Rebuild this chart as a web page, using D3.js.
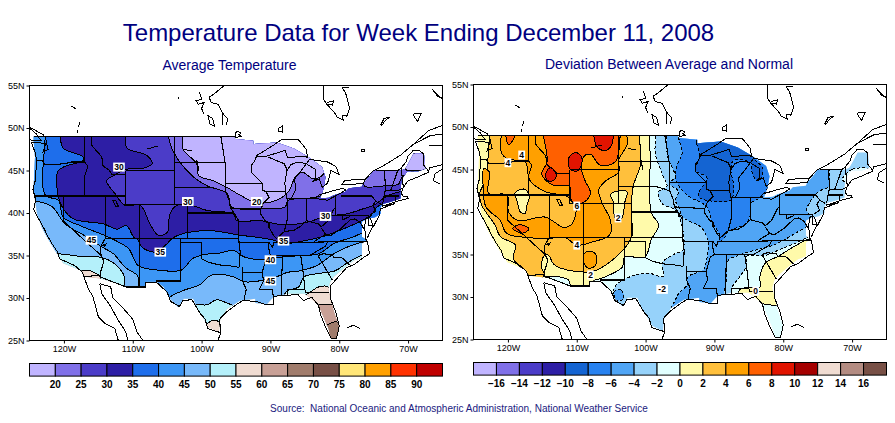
<!DOCTYPE html>
<html>
<head>
<meta charset="utf-8">
<script src="https://cdn.jsdelivr.net/npm/d3@7"></script>
<style>
body { margin: 0; background: #fff; }
svg { display: block; font-family: "Liberation Sans", Arial, sans-serif; }
.tick text { font-size: 9px; fill: #000; }
.legend-label { font-size: 10px; fill: #000; text-anchor: middle; font-weight: bold; }
.map-label { font-size: 8.5px; font-weight: bold; fill: #000; text-anchor: middle; }
</style>
</head>
<body>
<div id="container"></div>
<script>
// ---- data, all in lon/lat ----
const latTicks = [25, 30, 35, 40, 45, 50, 55];
const lonTicks = [-120, -110, -100, -90, -80, -70];

const tempLabels = [20, 25, 30, 35, 40, 45, 50, 55, 60, 65, 70, 75, 80, 85, 90];
const tempColors = ["#c0b4ff", "#8070e8", "#4b3cc8", "#2d1ea5", "#1e6eeb", "#3c96f5", "#78b9fa", "#b4f0fa",
    "#f0dcd2", "#c8a096", "#a07c6c", "#785046", "#ffe678", "#ffa000", "#ff3200", "#c00000"];

const devLabels = ["−16", "−14", "−12", "−10", "−8", "−6", "−4", "−2", "0", "2", "4", "6", "8", "10", "12", "14", "16"];
const devColors = ["#c0b4ff", "#8070e8", "#4b3cc8", "#2d1ea5", "#1464d2", "#2882f0", "#50a5f5", "#96d2fa",
    "#e1ffff", "#fffaaa", "#ffc03c", "#ffa000", "#ff6000", "#e11400", "#a50000", "#f0dcd2", "#b48c82", "#785046"];

// the shaded area, with the stepped edge of the analysis grid
const usMask = [[-124.4,49],[-95.4,49],[-95.1,48.7],[-92.5,48.5],[-92.5,48.1],[-89.1,48.3],[-86.6,47.6],[-84.5,46.6],[-82.5,45.4],[-82,44.2],[-82.3,42.8],[-82.8,41.7],[-81.5,41.8],[-80.8,42.1],[-79.1,42.5],[-78.6,42.9],[-76.7,43.1],[-76.5,43.5],[-76,43.9],[-75.5,44.4],[-75,45],[-71,45],[-70.4,45.2],[-69.9,45.9],[-69.2,47],[-67.7,47],[-67.5,45.2],[-68.5,44.9],[-70.1,44.9],[-70.9,44],[-71.1,42.9],[-71.1,41.7],[-72.6,41.3],[-73.6,41.1],[-74,40.7],[-74,39.9],[-74.8,39.5],[-76,39.3],[-76.7,39],[-76.7,37.2],[-76,36.8],[-76.7,36.4],[-76.7,34.8],[-77.9,34.4],[-78.9,33.8],[-80.8,32.5],[-81.3,31.9],[-81.6,31.1],[-80.8,28.5],[-80,26.6],[-80.3,25.3],[-81.3,25.3],[-81.6,26.4],[-82.8,28.7],[-83,29.2],[-85,30.5],[-87.6,30.5],[-89.6,30.1],[-90.5,29.3],[-92.2,29.4],[-92.2,29.9],[-94.4,29.7],[-96.3,28.7],[-97.3,27.4],[-97.5,26],[-99,26.6],[-100.7,28.9],[-101.2,29.9],[-102.6,29.9],[-103.4,28.9],[-104.6,29.9],[-105.5,31.3],[-106.5,31.9],[-108,31.9],[-108.2,31.4],[-111.1,31.4],[-114.7,32.3],[-116.9,32.5],[-117.4,33.2],[-120.1,34.1],[-121.3,35.6],[-122.5,37.2],[-123.2,38.3],[-123.9,39.9],[-124.2,41.5],[-124.4,43],[-124.2,46.6],[-124.4,48.5]];

// average temperature: everything colder than a level, warm to cold
const below65 = [[-130,60],[-130,20],[-83,20],[-82.5,26.5],[-81.8,26.8],[-80.6,27.2],[-79.5,27],[-60,30],[-60,60]];
const below60 = [[-130,60],[-130,20],[-84,20],[-84,29],[-83,29.2],[-80.8,29.2],[-79,29.2],[-60,31],[-60,60]];
const below55 = [[-117.4,33.2],[-116.2,33.2],[-114.7,32.5],[-114.7,32.1],[-108.4,30.5],[-104.1,28.1],[-100.2,26.6],[-99.2,27],[-98.3,27.4],[-97.5,27.2],[-97,25.8],[-90.5,27.4],[-85.4,29.7],[-85,30.3],[-84.2,30.7],[-83,31.3],[-81.6,31.3],[-81.2,30.5],[-79.9,30.5],[-70,30],[-60,40],[-60,60],[-130,60],[-130,33.2]];
const below50 = [[-120.8,35.2],[-117.6,34.9],[-114.7,34.8],[-112.6,34],[-111.2,32.5],[-111.1,31.2],[-108.4,30.5],[-104.1,28.1],[-101,29.2],[-99.2,29.2],[-97.8,29.8],[-96.3,29.4],[-95.4,29.1],[-94.4,28.5],[-88.3,28.9],[-88.3,29.7],[-87.6,30.8],[-85.9,31.3],[-85.1,32.5],[-82.8,32.9],[-80.6,33.2],[-78.9,34.1],[-76.7,35],[-74,35],[-60,40],[-60,60],[-130,60],[-130,35.2]];
const below45 = [[-124.2,41.4],[-121.8,40.8],[-119.8,38.7],[-116.7,37.2],[-114.7,36.1],[-112.8,35.2],[-111.1,33.6],[-109.3,32.6],[-109,31.1],[-106.5,30.1],[-104.8,29.7],[-104.6,30.1],[-102.6,30.9],[-100.2,31.6],[-99,32.5],[-97.8,32.8],[-95.4,32.5],[-93.7,31.9],[-91,32.1],[-89.1,32.5],[-87.6,33],[-85.7,33.2],[-83.3,33.8],[-80.8,35.2],[-78.2,36.2],[-76.2,36.6],[-74,36.6],[-60,42],[-60,60],[-130,60],[-130,41.4]];
const below40 = [[-122.7,49.7],[-122.7,42.1],[-120.8,41.5],[-120.1,39.5],[-117.6,38.5],[-114.2,37.4],[-112.6,36.8],[-110.6,35.8],[-109.2,33.8],[-106.5,33.3],[-102.9,33.3],[-101.4,34.6],[-99.7,35.1],[-97.3,35.3],[-95.4,35.6],[-93.7,34.8],[-91,34.5],[-88.6,34.8],[-85.4,35],[-83,35.2],[-80.8,36.4],[-77.9,37.2],[-76.5,37.7],[-74,38],[-60,44],[-60,60],[-122.7,60]];
const below35 = [[-120.6,49.7],[-120.5,48.7],[-120.1,47.6],[-117.2,46.6],[-117.2,46.2],[-120.8,45],[-120.8,41.9],[-120.1,40.5],[-118.6,39.3],[-114.2,38.7],[-112.3,38.1],[-110.9,38.5],[-109.9,37.2],[-109.2,36.8],[-108.7,36],[-106.7,35.4],[-105,36.4],[-104.3,37],[-102.1,37.7],[-98.3,37.9],[-94.6,37.4],[-92.5,37.2],[-89.5,36.8],[-88.1,36.4],[-84.7,36.8],[-82.5,37.2],[-78.9,38.3],[-76.7,39.1],[-75.5,39.6],[-74.5,40.7],[-73.8,41],[-72,40.5],[-60,45],[-60,60],[-120.6,60]];
const below30 = [[-110.9,49.7],[-110.9,47.7],[-108,46.8],[-107.2,45.8],[-108.9,45.2],[-110.6,45.2],[-112.8,44.4],[-113.8,43.8],[-112.6,42.3],[-111.1,40.9],[-108.9,40.9],[-107.5,38.7],[-106.3,37.4],[-105,37.7],[-104.6,39.9],[-103.6,40.9],[-101.9,41],[-99.2,40.3],[-95.4,39.9],[-94.9,39.1],[-91.5,39.1],[-88.1,38.6],[-84.7,38.9],[-82,39.6],[-78.9,39.9],[-76.5,40.5],[-75,40.9],[-74.3,41.3],[-72.8,42.1],[-71.1,42.5],[-70,42.5],[-60,45],[-60,60],[-110.9,60]];
const below25 = [[-104.8,49.7],[-104.8,48.9],[-104.1,47.2],[-101.4,44.4],[-99.2,43.2],[-96.3,42.3],[-95.6,40.7],[-92,40.5],[-87.9,40.7],[-87.4,41.5],[-84.7,41.7],[-82.8,42],[-80.8,42.6],[-76.5,43.4],[-76.2,43.1],[-73.3,43.2],[-71.4,43.4],[-70.9,44.2],[-69,45],[-67.3,45.3],[-66,45],[-60,45],[-60,60],[-104.8,60]];
const below20 = [[-102.7,49.7],[-102.7,47.5],[-100.7,45.8],[-100.4,44.4],[-98.3,43.8],[-96.3,43],[-94.4,42.1],[-92,41.2],[-89.1,41.5],[-87.4,42.5],[-86.4,44.2],[-85.4,44.8],[-83.7,44],[-82.5,44.4],[-82,45],[-80.8,45.8],[-72,48],[-60,60],[-102.7,60]];
const below20Maine = [[-70.4,45.2],[-69.2,47],[-67.7,47],[-67.5,45.2],[-68.5,45],[-70.1,45]];

// deviation from normal: warm side grows from the west, cold side from the east
const above0 = [[-99.5,51.6],[-99.5,48.9],[-99.3,46.1],[-99.5,43],[-99.1,39.8],[-98.1,38.5],[-99.2,36.7],[-100.1,34.7],[-103,34.7],[-103.4,33.5],[-106.4,32.2],[-107.6,31.9],[-108.3,30.8],[-110.7,30.8],[-111.2,32],[-114.1,32.4],[-115.1,32],[-117.5,30.4],[-130,30],[-130,60],[-99.5,60]];
const above0East = [[-75.4,36.7],[-76.3,36.8],[-78.3,36],[-80.7,34.8],[-82.6,34],[-83.4,32.4],[-83.4,31.1],[-84.6,31.1],[-86.3,30.9],[-86.3,30],[-83.6,29.4],[-82.9,29.2],[-80.9,29],[-79.2,29],[-75,32]];
const above2 = [[-100.9,51.6],[-100.9,48.9],[-100.7,45.7],[-101.8,43],[-102.1,39.8],[-102,37.1],[-104.9,34.3],[-107.8,33],[-112.4,33.4],[-113.4,33.9],[-114.1,34.9],[-114.8,34.8],[-115.1,33.5],[-114.7,32.6],[-115.6,32],[-117,32],[-117,32.6],[-119.2,34.5],[-118.9,36.1],[-121.1,37.1],[-121.9,38.5],[-123.8,40.8],[-124.1,42.2],[-123.3,43.7],[-122.9,46.3],[-122.8,47.7],[-122.6,49.6],[-122.6,60],[-100.9,60]];
const above4 = [[-121,50],[-102.7,50],[-102.7,48.9],[-102.7,47.9],[-103.9,46.1],[-103.9,44.7],[-105.9,43.6],[-106.8,42.6],[-106.4,41.2],[-105.1,39],[-105.2,37.3],[-107.6,36.5],[-110,36.1],[-111.7,37],[-114.1,36.9],[-117.3,37],[-120.2,37.5],[-121.1,39],[-123.2,40.6],[-123.6,43],[-123.5,45.1],[-122.7,44.7],[-122.8,42.2],[-120.1,42],[-119.9,40],[-118.5,39],[-114.6,39.4],[-111.9,38.2],[-110.7,38.6],[-110.1,40.8],[-110.7,41.2],[-111.3,41.8],[-114.6,42.4],[-116.8,43.7],[-117.5,45.9],[-119.9,46.2],[-120.9,46.9],[-121,48.9]];
const above4Blob = [[-108.9,35.1],[-108,35.4],[-107.2,34.9],[-107.3,33.7],[-108.3,33.4],[-108.9,33.9]];
const below2Nevada = [[-119,42.2],[-117.7,42.7],[-116.9,42],[-117.3,40.6],[-117.5,39.8],[-118.2,40],[-118.7,41.4]];
const below2Plains = [[-105.1,42],[-104.4,42.4],[-102.7,42.4],[-103,41.2],[-103.5,39.2],[-104.4,39.2],[-104.7,41.2]];
const above6 = [[-114.8,50],[-114.8,48.9],[-114.3,45.9],[-115.1,44.5],[-113.6,43.2],[-111,43],[-110.9,41.6],[-110.2,41],[-108.9,41.2],[-108,42.2],[-108.8,43.7],[-109.3,45],[-109,46.5],[-108,46.8],[-106.6,45.5],[-104.4,45.9],[-103.7,48.9],[-103.7,50]];
const above6Idaho = [[-120.3,50],[-119,50],[-119,48.9],[-119.9,47.9],[-120.3,48.9]];
const above6Nevada = [[-119.3,38.1],[-118.2,38.5],[-116.9,38],[-118,37.5]];
const above8Montana = [[-111.2,46.3],[-110.2,47],[-109.3,46.5],[-109.4,45.3],[-110,44.8],[-111,45.1]];
const above8Idaho = [[-114.5,44.5],[-113.9,45.2],[-112.9,44.5],[-113.4,43.7],[-114.25,43.7]];
const above8North = [[-107.5,50],[-104.7,50],[-104.7,48.9],[-104.9,47.9],[-105.9,47.2],[-107.1,47.7],[-107.5,48.9]];
const belowM2 = [[-98.5,51.6],[-98.5,48.9],[-98.6,46.9],[-97.6,44.5],[-96.9,43],[-98.1,42.4],[-97.6,41],[-95.7,40.2],[-94.7,38.3],[-94.6,35.5],[-95.7,35.1],[-97.6,34],[-97.4,32.4],[-99.6,32.8],[-102.2,32.4],[-104.4,31.3],[-104.7,30.4],[-105.4,29.2],[-100,25.3],[-95.2,25.3],[-90.4,27.3],[-87.5,29.6],[-87.5,31],[-86.3,32.4],[-85.3,33.7],[-85.3,34.8],[-82.6,34.9],[-80.2,35.7],[-77.8,36.5],[-76.1,37.3],[-75.8,38.3],[-74.4,39.4],[-70,40],[-60,45],[-60,60],[-98.5,60]];
const aboveM2Maine = [[-71.4,43.8],[-70,45],[-67.4,45.1],[-66,44.6],[-68.5,43]];
const belowM4Texas = [[-104.6,30.6],[-103.5,30.8],[-103.2,29.8],[-104.2,29.6]];
const belowM4 = [[-96.9,51.6],[-96.9,48.9],[-96.8,46.5],[-95.7,44.1],[-96.6,43.4],[-95.2,42.4],[-95.7,41.4],[-95.2,40.6],[-94.6,39.4],[-91.8,38.1],[-90.9,36.3],[-91.2,34.1],[-91.6,33.2],[-93.8,32.4],[-94,31.4],[-95.2,30.4],[-95.7,29.6],[-96.2,28.5],[-93.3,27.3],[-89.4,27.7],[-88.7,30],[-88.2,32.4],[-88,34.3],[-86.5,34.9],[-84.1,35.5],[-81.4,36.1],[-77.8,37.7],[-76.6,38.3],[-76.1,39.4],[-76.6,40.2],[-76.1,41.2],[-74.9,42.4],[-73.4,43],[-73.3,45],[-73.2,47.7],[-73.2,51.6],[-73.2,60],[-96.9,60]];
const belowM6 = [[-95.2,51.6],[-95.2,48.8],[-94.7,46.9],[-95.5,45.3],[-95.5,43.6],[-94,42],[-91.1,40.6],[-90.4,39],[-89.2,37.1],[-89.6,36.3],[-88.4,37.1],[-88,37.7],[-85.5,38.6],[-84.8,39.6],[-84.7,41],[-83.1,41.8],[-82.1,43],[-81.2,43.7],[-80.7,45.7],[-80.7,51.6],[-80.7,60],[-95.2,60]];
const belowM8 = [[-92.6,51.6],[-92.6,48.1],[-92.1,46.7],[-92.7,44.9],[-91.1,44.1],[-91.2,43.6],[-92.3,42.2],[-92.2,41.7],[-90.6,41.3],[-87.6,41.4],[-87.2,43],[-87.6,44.9],[-87.2,46.1],[-84.6,45.7],[-84.6,44.9],[-83.8,43.7],[-83.1,44.1],[-83.1,45.3],[-84.3,46.3],[-85.5,49.6]];

// contour labels [lon, lat, text]
const tempMapLabels = [[-112,45.4,"30"],[-102,41.35,"30"],[-92,41.35,"20"],[-82,39.6,"30"],[-116,36.8,"45"],[-106,35.4,"35"],[-88.1,36.7,"35"],[-90,34.5,"40"],[-90,32,"45"]];
const devMapLabels = [[-120,45.8,"4"],[-118,46.7,"4"],[-110,40.7,"6"],[-104,39.3,"2"],[-110,36.1,"4"],[-108,32.6,"2"],[-97.6,30.9,"-2"],[-84,30.7,"0"]];

// state lines
const stateLines = [
    [[-124.4,49],[-95.2,49]],
    [[-124,46.2],[-123,46.1],[-122.8,45.7],[-121,45.7],[-119.3,45.9],[-119,46],[-116.9,46]],
    [[-117,49],[-117,46],[-116.5,45.5],[-117,44.3],[-117,42]],
    [[-124.2,42],[-111,42]],
    [[-116,49],[-116,48],[-114.5,46.6],[-114.3,45.5],[-113.5,45.1],[-113,44.5],[-111,44.5]],
    [[-111,45],[-104,45]],
    [[-111,45],[-111,41],[-109,41]],
    [[-111,41],[-102,41],[-102,37]],
    [[-109,41],[-109,31.3]],
    [[-114,37],[-94.6,37]],
    [[-114,42],[-114,37],[-114.7,36],[-114.6,35],[-114.2,34.3],[-114.7,33],[-114.7,32.7]],
    [[-120,42],[-120,39],[-114.6,35]],
    [[-117.1,32.5],[-114.7,32.7],[-114.8,32.5],[-111,31.3],[-108.2,31.3],[-108.2,31.8],[-106.5,31.8],[-105,30.7],[-104.5,29.6],[-103.2,29],[-102.7,29.7],[-101.4,29.8],[-100.3,28.3],[-99.5,27.5],[-99.1,26.4],[-97.2,25.9]],
    [[-106.6,32],[-103,32],[-103,37]],
    [[-103,36.5],[-100,36.5],[-100,34.6],[-99,34.2],[-97.5,33.9],[-96,33.8],[-94.5,33.6]],
    [[-94.6,37],[-94.4,35.4],[-94.5,33.6]],
    [[-94,33.6],[-94,31.9],[-93.5,31],[-93.8,30],[-93.8,29.7]],
    [[-94,33],[-91.2,33],[-91,32],[-91.6,31],[-89.7,31],[-89.6,30.2]],
    [[-91.2,33],[-90.6,34.7],[-90,35],[-90.3,36],[-90.2,36.5],[-94.6,36.5]],
    [[-90.2,36.5],[-89.7,36],[-89.5,36.5],[-81.7,36.6],[-75.9,36.6]],
    [[-90,35],[-84.3,35],[-82,36.1],[-81.7,36.6]],
    [[-88.2,35],[-88.4,32],[-88.4,30.3]],
    [[-85.6,35],[-85.2,32.8],[-85,31],[-84.9,30.7],[-82.2,30.6],[-81.5,30.7]],
    [[-87.5,30.3],[-87.5,31],[-85,31]],
    [[-83.1,35],[-81,32.1]],
    [[-83.1,35],[-82.3,35.2],[-81,35.1],[-80.8,34.8],[-79.7,34.8],[-78.5,33.9]],
    [[-83.7,36.6],[-82,37.5],[-82.6,38.2]],
    [[-89.1,37],[-88,37.8],[-86.5,38],[-85.5,38.5],[-84.8,39.1],[-83,38.7],[-82.6,38.4],[-81.7,39],[-80.7,40.6]],
    [[-82,37.5],[-81.3,37.3],[-80,38],[-78.4,39.2],[-77.7,39.3],[-77,38.9],[-76.3,38]],
    [[-80.5,39.7],[-75.8,39.7],[-75.7,38.5],[-75.1,38.5]],
    [[-79.5,39.7],[-79.5,39.2],[-78.4,39.6]],
    [[-80.5,39.7],[-80.5,42]],
    [[-79.8,42],[-75.3,42],[-74.7,41.4],[-75.1,40.9],[-74.7,40.2],[-75.5,39.8]],
    [[-74.7,41.4],[-73.9,41]],
    [[-73.7,41],[-73.5,42],[-73.3,42.7],[-73.4,45]],
    [[-73.3,42.7],[-71.3,42.7],[-70.8,42.9]],
    [[-72.5,42.7],[-71.5,45]],
    [[-73.5,42],[-71.8,42],[-71.8,41.3]],
    [[-71.3,42],[-71.8,42]],
    [[-70.7,43.1],[-71,45.3]],
    [[-74.7,45],[-71.5,45],[-71,45.3],[-70.3,46],[-70,46.7],[-69.2,47.4],[-68.3,47.3],[-67.8,47],[-67.8,45.7],[-67,44.9]],
    [[-84.8,41.7],[-84.8,39.1]],
    [[-84.8,41.7],[-83.4,41.7]],
    [[-87,41.7],[-84.8,41.7]],
    [[-87.5,41.7],[-87.5,39.4],[-88,37.8]],
    [[-90.6,42.5],[-87.8,42.5]],
    [[-90.6,42.5],[-90.2,41.8],[-91,41.2],[-91.4,40.4],[-91.5,40],[-90.7,39],[-90.2,38.8],[-90.2,38.3],[-89.5,37.3],[-89.1,37]],
    [[-92,46.7],[-92.3,46.1],[-92.8,45.6],[-92.8,44.8],[-91.2,43.5],[-91.2,42.7],[-90.6,42.5]],
    [[-96.5,43.5],[-91.2,43.5]],
    [[-95.8,40.6],[-91.4,40.4]],
    [[-94.6,36.5],[-94.6,39.1],[-95.3,40],[-95.8,40.6],[-96,41.5],[-96.5,42.5],[-98.5,43],[-104,43]],
    [[-102,40],[-95.3,40]],
    [[-104,45.9],[-96.6,45.9]],
    [[-97.2,49],[-96.6,46],[-96.5,45.3],[-96.5,42.5]],
    [[-104,49],[-104,41]],
    [[-90.4,46.6],[-88,45.8],[-87.6,45.1]]
];

// coast, lakes and the bits of Canada and Mexico
const coastLines = [
    [[-125,50],[-124,49.3],[-123.3,48.5],[-124.7,48.5],[-125,48.8]],
    [[-125,50.1],[-123,49.2],[-122.7,48.9],[-122.3,47.5],[-123,47.2],[-122.6,48.2],[-124.7,48.3],[-124.1,46.9],[-124,46.2],[-124.1,44],[-124.5,42.8],[-124.1,41.5],[-124.4,40.4],[-123.8,39.5],[-122.9,38.2],[-122.5,37.5],[-121.9,36.6],[-121,35.5],[-120.6,34.6],[-119.2,34.1],[-118.4,33.8],[-117.3,33],[-117.1,32.5],[-116.4,31],[-115.8,30.2],[-115,27.8],[-114,27],[-112.6,26.4],[-112.1,25]],
    [[-114.8,31.7],[-114.5,30.5],[-113.2,29],[-112.2,27.5],[-111,26],[-110.7,25]],
    [[-114.8,31.7],[-113.2,31.3],[-112.9,30],[-111.5,28.9],[-110,27.5],[-109.4,26],[-108.5,25]],
    [[-97.7,24.9],[-97.2,25.9],[-97.4,27.5],[-96.3,28.4],[-95,29.2],[-94,29.7],[-92,29.6],[-91,29.3],[-89.5,29.2],[-89.5,30.2],[-88,30.3],[-86,30.4],[-85.2,29.7],[-84,30.1],[-83,29.1],[-82.7,28],[-82,26.6],[-81.2,25.3],[-80.4,25.2],[-80,26.7],[-80.5,28.3],[-81.3,30],[-81.2,31.5],[-79.9,32.7],[-78.9,33.6],[-77.9,33.9],[-76.6,34.7],[-75.6,35.2],[-75.9,36.6],[-76.2,37],[-76.3,38.5],[-76.1,39.5],[-75.5,39.4],[-75.1,38.5],[-75.9,37.1]],
    [[-75.1,38.3],[-74.2,39.7],[-74,40.5],[-71.9,41.1],[-72.6,41],[-73.8,40.8],[-71.5,41.4],[-70.6,41.6],[-70,41.7],[-70.2,42],[-70.6,41.9],[-71,42.3],[-70.7,43],[-70,43.8],[-69,44.1],[-67,44.8],[-66.9,45.3],[-65,45.7]],
    [[-65,45.2],[-66.1,44.6],[-66.3,43.8],[-65.3,43.4]],
    [[-92.1,46.7],[-90.5,46.7],[-88.5,47.2],[-87.9,47.4],[-87.5,46.5],[-85,46.7],[-84.6,46.5],[-84.8,47.5],[-86,48.7],[-88.3,48.7],[-89.5,48],[-92.1,46.7]],
    [[-87.6,41.7],[-87,41.7],[-86.3,42.8],[-86.5,44],[-85.5,45],[-84.8,45.8],[-86,46],[-87,45.7],[-87.6,45],[-87.9,43.5],[-87.8,42.5],[-87.6,41.7]],
    [[-84.8,45.8],[-83.4,45.1],[-83.4,44],[-83.9,43.7],[-82.9,44],[-82.5,43],[-81.7,43.5],[-81.2,45],[-80,44.5],[-80.5,45.5],[-81.7,46],[-84.3,46.3],[-84.8,45.8]],
    [[-83.4,41.7],[-81.7,41.5],[-79,42.7],[-79.5,42.9],[-81,42.6],[-83,42.1],[-83.4,41.7]],
    [[-79.7,43.3],[-79,43.3],[-76.5,43.5],[-76.2,44],[-77,44],[-79.2,43.8],[-79.7,43.3]],
    [[-76.2,44],[-75,45],[-73.5,45.6],[-71.1,46.8],[-69.2,48.1],[-67,49.7],[-65,50.3]],
    [[-69.2,48.1],[-66.8,49.1],[-65,49.3]],
    [[-67,47.9],[-65,47.9]],
    [[-118.9,52.6],[-118.2,52.2]],
    [[-117.7,50.7],[-117.9,50.1]],
    [[-118,49.8],[-118.1,49.4]],
    [[-103.5,53.7],[-103.3,53.5]],
    [[-100.3,54.2],[-100,53.4],[-100.8,53.2],[-100.5,52.8],[-99.6,53],[-100,52.3],[-99.7,51.7]],
    [[-96.7,55],[-97.9,54.2],[-98.9,53.6],[-98.6,53],[-97.6,52.8],[-96.9,51.7],[-97,50.3]],
    [[-99.1,51.5],[-98.4,51.1],[-98.1,50.2],[-98.8,50.5],[-99.1,51.5]],
    [[-96.9,51.7],[-96.2,51.1],[-96.4,50.3]],
    [[-82.3,54.9],[-82.3,53.4],[-81.8,52.8],[-80.6,51.7],[-80.3,51.3],[-79.4,50.9],[-79.6,51.5],[-78.9,51.4],[-78.5,52.3],[-79.1,54.2],[-79.6,54.7],[-78.6,54.8]],
    [[-81.8,53],[-80.8,53.2],[-81,52.7],[-81.8,52.8],[-81.8,53]],
    [[-74,50.3],[-73.5,51.1],[-72.6,51.3],[-73.3,50.9],[-73.9,50.2]],
    [[-69.2,51.7],[-68.1,51.7],[-68.6,50.8],[-69.1,51.3],[-69.2,51.7]],
    [[-66.5,54.6],[-65.8,53.8],[-65,53.4],[-66.3,54.4]],
    [[-88.9,49.9],[-88.3,50.2],[-88.2,49.5],[-88.8,49.6],[-88.9,49.9]],
    [[-95.1,48.9],[-95,49.5],[-94.7,49.6],[-94.3,49.4],[-94.6,49.2],[-94.2,49],[-95.1,48.9]],
    [[-76.8,47.5],[-76.4,47.5],[-76.4,47.2],[-76.8,47.2],[-76.8,47.5]],
    [[-112.9,41.5],[-112.5,41.5],[-112.1,40.8],[-112.4,40.7],[-112.9,41.5]],
    [[-108,47.5],[-106.3,47.9]],
    [[-102.6,47.5],[-101.4,47.3]],
    [[-100.7,46.2],[-100.4,45]],
    [[-114.6,36.1],[-113.8,36.4],[-114.2,36]],
    [[-78.9,26.5],[-77.9,26.8],[-77,26.4]]
];

// ---- layout ----
const width = 895, height = 423;

const svg = d3.select("#container").append("svg")
    .attr("width", width)
    .attr("height", height);

svg.append("text")
    .attr("x", 418.5).attr("y", 41)
    .attr("text-anchor", "middle")
    .attr("font-size", 24)
    .attr("fill", "#000080")
    .text("Temperature Data for Week Ending December 11, 2008");

const closedLine = d3.line().curve(d3.curveCatmullRomClosed.alpha(0.5));

function drawMap(cfg) {
    const x = d3.scaleLinear().domain([-125, -65]).range([cfg.x0, cfg.x1]);
    const y = d3.scaleLinear().domain([25, 55]).range([cfg.y1, cfg.y0]);
    const project = pts => pts.map(d => [x(d[0]), y(d[1])]);
    const plain = d3.line();

    svg.append("text")
        .attr("x", cfg.titleX).attr("y", cfg.titleY)
        .attr("text-anchor", "middle")
        .attr("font-size", 14)
        .attr("fill", "#000080")
        .text(cfg.title);

    const defs = svg.append("defs");
    defs.append("clipPath").attr("id", `mask-${cfg.id}`)
        .append("path").attr("d", plain(project(usMask)) + "Z");
    defs.append("clipPath").attr("id", `frame-${cfg.id}`)
        .append("rect")
        .attr("x", cfg.x0).attr("y", cfg.y0)
        .attr("width", cfg.x1 - cfg.x0).attr("height", cfg.y1 - cfg.y0);

    // shaded bands, stacked and cut to the US
    const bands = svg.append("g")
        .attr("clip-path", `url(#mask-${cfg.id})`)
        .style("shape-rendering", "crispEdges");

    bands.append("path")
        .attr("d", plain(project(usMask)) + "Z")
        .attr("fill", cfg.base);

    bands.selectAll("path.band")
        .data(cfg.layers)
        .enter().append("path")
        .attr("class", "band")
        .attr("d", d => closedLine(project(d.ring)))
        .attr("fill", d => d.color)
        .attr("stroke", "#000")
        .attr("stroke-width", 1)
        .attr("stroke-dasharray", d => d.dashed ? "3,2" : null);

    // state lines and coasts go over the bands
    const lines = svg.append("g")
        .attr("clip-path", `url(#frame-${cfg.id})`)
        .attr("fill", "none")
        .attr("stroke", "#000")
        .style("shape-rendering", "crispEdges");

    lines.selectAll("path.coast")
        .data(coastLines)
        .enter().append("path")
        .attr("class", "coast")
        .attr("d", d => plain(project(d)))
        .attr("stroke-width", 1);

    lines.selectAll("path.state")
        .data(stateLines)
        .enter().append("path")
        .attr("class", "state")
        .attr("d", d => plain(project(d)))
        .attr("stroke-width", 1.1);

    // contour labels
    const labels = svg.selectAll(`g.contour-label-${cfg.id}`)
        .data(cfg.labels)
        .enter().append("g")
        .attr("class", `contour-label-${cfg.id}`)
        .attr("transform", d => `translate(${x(d[0])},${y(d[1])})`);
    labels.append("rect")
        .attr("x", d => -d[2].length * 2.4 - 1).attr("y", -4.5)
        .attr("width", d => d[2].length * 4.8 + 2).attr("height", 9)
        .attr("fill", "#fff");
    labels.append("text")
        .attr("class", "map-label")
        .attr("dy", "0.35em")
        .text(d => d[2]);

    // frame and axes
    svg.append("rect")
        .attr("x", cfg.x0).attr("y", cfg.y0)
        .attr("width", cfg.x1 - cfg.x0).attr("height", cfg.y1 - cfg.y0)
        .attr("fill", "none")
        .attr("stroke", "#000");

    const yAxis = svg.append("g")
        .attr("transform", `translate(${cfg.x0},0)`)
        .call(d3.axisLeft(y).tickValues(latTicks).tickFormat(d => d + "N").tickSize(3).tickPadding(2));
    yAxis.select(".domain").remove();

    const xAxis = svg.append("g")
        .attr("transform", `translate(0,${cfg.y1})`)
        .call(d3.axisBottom(x).tickValues(lonTicks).tickFormat(d => (-d) + "W").tickSize(3).tickPadding(2));
    xAxis.select(".domain").remove();

    // colour bar
    const n = cfg.colors.length;
    const bar = d3.scaleLinear().domain([0, n]).range([cfg.x0, cfg.x1]);
    svg.selectAll(`rect.box-${cfg.id}`)
        .data(cfg.colors)
        .enter().append("rect")
        .attr("class", `box-${cfg.id}`)
        .attr("x", (d, i) => bar(i))
        .attr("y", cfg.barY)
        .attr("width", bar(1) - bar(0))
        .attr("height", 12.6)
        .attr("fill", d => d)
        .attr("stroke", "#000");

    svg.selectAll(`text.lab-${cfg.id}`)
        .data(cfg.ticks)
        .enter().append("text")
        .attr("class", `legend-label lab-${cfg.id}`)
        .attr("x", (d, i) => bar(i + 1))
        .attr("y", cfg.barY + 24.5)
        .text(d => d);
}

drawMap({
    id: "temp", title: "Average Temperature", titleX: 229.5, titleY: 70,
    x0: 29.5, x1: 442.5, y0: 85.5, y1: 340.5, barY: 363.5,
    base: tempColors[10],
    layers: [
        { ring: below65, color: tempColors[9] },
        { ring: below60, color: tempColors[8] },
        { ring: below55, color: tempColors[7] },
        { ring: below50, color: tempColors[6] },
        { ring: below45, color: tempColors[5] },
        { ring: below40, color: tempColors[4] },
        { ring: below35, color: tempColors[3] },
        { ring: below30, color: tempColors[2] },
        { ring: below25, color: tempColors[1] },
        { ring: below20, color: tempColors[0] },
        { ring: below20Maine, color: tempColors[0] }
    ],
    labels: tempMapLabels, colors: tempColors, ticks: tempLabels
});

drawMap({
    id: "dev", title: "Deviation Between Average and Normal", titleX: 669, titleY: 68.5,
    x0: 473.5, x1: 886.5, y0: 84.5, y1: 339.5, barY: 362.5,
    base: devColors[8],
    layers: [
        { ring: above0, color: devColors[9] },
        { ring: above0East, color: devColors[9] },
        { ring: above2, color: devColors[10] },
        { ring: above4, color: devColors[11] },
        { ring: above4Blob, color: devColors[11] },
        { ring: below2Nevada, color: devColors[9] },
        { ring: below2Plains, color: devColors[9] },
        { ring: above6, color: devColors[12] },
        { ring: above6Idaho, color: devColors[12] },
        { ring: above6Nevada, color: devColors[12] },
        { ring: above8Montana, color: devColors[13] },
        { ring: above8Idaho, color: devColors[13] },
        { ring: above8North, color: devColors[13] },
        { ring: belowM2, color: devColors[7], dashed: true },
        { ring: aboveM2Maine, color: devColors[8], dashed: true },
        { ring: belowM4Texas, color: devColors[6], dashed: true },
        { ring: belowM4, color: devColors[6], dashed: true },
        { ring: belowM6, color: devColors[5], dashed: true },
        { ring: belowM8, color: devColors[4], dashed: true }
    ],
    labels: devMapLabels, colors: devColors, ticks: devLabels
});

svg.append("text")
    .attr("x", 459).attr("y", 412)
    .attr("text-anchor", "middle")
    .attr("font-size", 10)
    .attr("fill", "#1a1a80")
    .style("white-space", "pre")
    .text("Source:  National Oceanic and Atmospheric Administration, National Weather Service");
</script>
</body>
</html>
